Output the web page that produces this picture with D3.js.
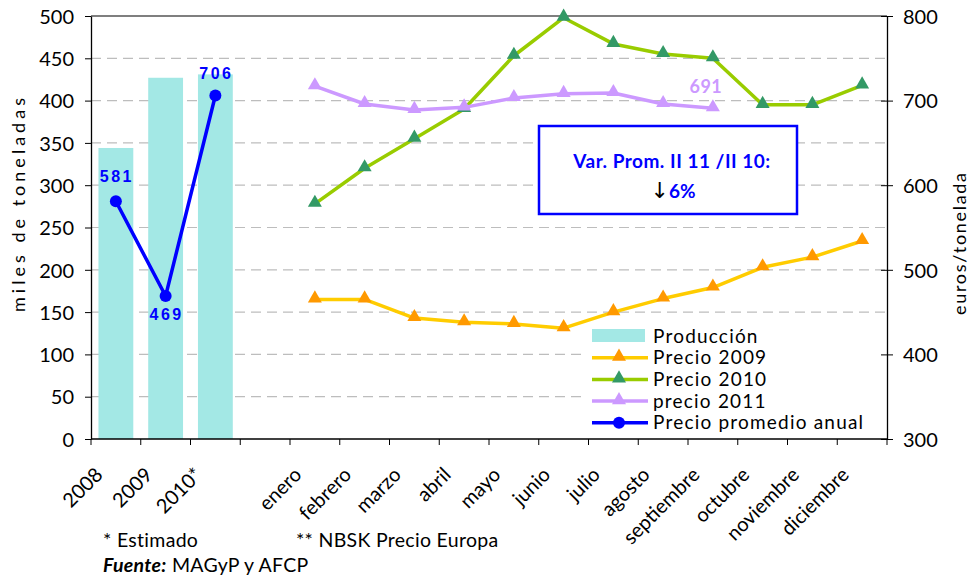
<!DOCTYPE html>
<html>
<head>
<meta charset="utf-8">
<script src="https://cdn.jsdelivr.net/npm/d3@7"></script>
<style>
  body { margin: 0; background: #fff; }
  svg text { font-family: Lato, "Noto Sans", sans-serif; }
</style>
</head>
<body>
<svg id="chart" width="970" height="577"></svg>
<script>
// categories on the x axis (blank slot separates years from months)
var categorias = ["2008", "2009", "2010*", "", "enero", "febrero", "marzo", "abril", "mayo", "junio",
                  "julio", "agosto", "septiembre", "octubre", "noviembre", "diciembre"];
var anios = ["2008", "2009", "2010*"];
var meses = ["enero", "febrero", "marzo", "abril", "mayo", "junio",
             "julio", "agosto", "septiembre", "octubre", "noviembre", "diciembre"];

// miles de toneladas (eje izquierdo)
var produccion = [344, 427, 431];
// euros/tonelada (eje derecho)
var precioPromedio = [581, 469, 706];
var precio2009 = [465, 465, 443, 438, 436, 431, 450, 466, 479, 503, 515, 534];
var precio2010 = [578, 620, 655, 690, 753, 798, 767, 755, 750, 695, 695, 718];
var precio2011 = [717, 696, 689, 692, 703, 708, 709, 696, 691];

var ticksIzq = [0, 50, 100, 150, 200, 250, 300, 350, 400, 450, 500];
var ticksDer = [300, 400, 500, 600, 700, 800];

var svg = d3.select("#chart");

var x = d3.scaleBand().domain(categorias).range([91, 887]).padding(0);
var yIzq = d3.scaleLinear().domain([0, 500]).range([439, 16]);
var yDer = d3.scaleLinear().domain([300, 800]).range([439, 16]);
var cx = function(c) { return x(c) + x.bandwidth() / 2; };

// dashed gridlines
svg.append("g").selectAll("line")
  .data(ticksIzq.slice(1, -1))
  .join("line")
  .attr("x1", 91).attr("x2", 887)
  .attr("y1", function(d) { return yIzq(d); })
  .attr("y2", function(d) { return yIzq(d); })
  .attr("stroke", "#bdbdbd")
  .attr("stroke-width", 1.2)
  .attr("stroke-dasharray", "10,6");

// top border
svg.append("line")
  .attr("x1", 91).attr("x2", 887)
  .attr("y1", yIzq(500)).attr("y2", yIzq(500))
  .attr("stroke", "#000").attr("stroke-width", 1.2);

// bars
svg.append("g").selectAll("rect")
  .data(produccion)
  .join("rect")
  .attr("x", function(d, i) { return x(anios[i]) + x.bandwidth() * 0.15; })
  .attr("width", x.bandwidth() * 0.7)
  .attr("y", function(d) { return yIzq(d); })
  .attr("height", function(d) { return yIzq(0) - yIzq(d); })
  .attr("fill", "#a3e8e5");

// legend background (hides the gridlines behind it)
svg.append("rect")
  .attr("x", 585).attr("y", 324)
  .attr("width", 300).attr("height", 114)
  .attr("fill", "#fff");

function serie(valores, etiquetas, color, grosor) {
  var line = d3.line()
    .x(function(d, i) { return cx(etiquetas[i]); })
    .y(function(d) { return yDer(d); });
  var g = svg.append("g");
  g.append("path")
    .datum(valores)
    .attr("d", line)
    .attr("fill", "none")
    .attr("stroke", color)
    .attr("stroke-width", grosor)
    .attr("stroke-linejoin", "round");
  return g;
}

function triangulos(g, valores, etiquetas, color) {
  g.selectAll("path.m")
    .data(valores)
    .join("path")
    .attr("class", "m")
    .attr("d", d3.symbol(d3.symbolTriangle, 85))
    .attr("transform", function(d, i) {
      return "translate(" + cx(etiquetas[i]) + "," + (yDer(d) - 1) + ")";
    })
    .attr("fill", color);
}

// precio promedio anual
var gProm = serie(precioPromedio, anios, "#0000ff", 3.5);
gProm.selectAll("circle")
  .data(precioPromedio)
  .join("circle")
  .attr("cx", function(d, i) { return cx(anios[i]); })
  .attr("cy", function(d) { return yDer(d); })
  .attr("r", 6)
  .attr("fill", "#0000ff");

var g09 = serie(precio2009, meses, "#ffcc00", 3.5);
triangulos(g09, precio2009, meses, "#ff9900");
var g10 = serie(precio2010, meses, "#99cc00", 3.5);
triangulos(g10, precio2010, meses, "#339966");
var g11 = serie(precio2011, meses, "#cc99ff", 3.5);
triangulos(g11, precio2011, meses, "#cc99ff");

// data labels
var offsets = [-19, 24, -17];
svg.append("g").selectAll("text")
  .data(precioPromedio)
  .join("text")
  .attr("x", function(d, i) { return cx(anios[i]) + 1; })
  .attr("y", function(d, i) { return yDer(d) + offsets[i]; })
  .attr("text-anchor", "middle")
  .style("font-family", "'Liberation Sans', Arial, sans-serif")
  .style("font-weight", "bold")
  .style("font-size", "16px")
  .style("letter-spacing", "2.5px")
  .attr("fill", "#0000ff")
  .text(function(d) { return d; });

var ult = precio2011.length - 1;
svg.append("text")
  .attr("x", cx(meses[ult]) - 7)
  .attr("y", yDer(precio2011[ult]) - 15)
  .attr("text-anchor", "middle")
  .style("font-weight", "bold")
  .style("font-size", "18px")
  .style("letter-spacing", "0.5px")
  .attr("fill", "#cc99ff")
  .text(precio2011[ult]);

// axes
var ejeIzq = svg.append("g")
  .attr("transform", "translate(91,0)")
  .call(d3.axisLeft(yIzq).tickValues(ticksIzq).tickSizeInner(6).tickSizeOuter(0).tickPadding(11));
ejeIzq.selectAll("text").style("font-size", "20px").attr("fill", "#000").attr("dy", "0.36em");
ejeIzq.select(".domain").attr("stroke-width", 1.3);

var ejeDer = svg.append("g")
  .attr("transform", "translate(887,0)")
  .call(d3.axisRight(yDer).tickValues(ticksDer).tickSizeInner(6).tickSizeOuter(0).tickPadding(10));
ejeDer.selectAll(".tick line").attr("x1", -6);
ejeDer.selectAll("text").style("font-size", "20px").attr("fill", "#000").attr("dy", "0.36em");
ejeDer.select(".domain").attr("stroke-width", 1.3);

// bottom axis with ticks at the band edges
svg.append("line")
  .attr("x1", 91).attr("x2", 887)
  .attr("y1", 439).attr("y2", 439)
  .attr("stroke", "#000").attr("stroke-width", 1.3);
var bordes = categorias.map(function(c) { return x(c); }).concat([x.range()[1]]);
svg.append("g").selectAll("line")
  .data(bordes)
  .join("line")
  .attr("x1", function(d) { return d; }).attr("x2", function(d) { return d; })
  .attr("y1", 439).attr("y2", 445)
  .attr("stroke", "#000");

svg.append("g").selectAll("text")
  .data(categorias.filter(function(c) { return c !== ""; }))
  .join("text")
  .attr("transform", function(c) { return "translate(" + (cx(c) - 12) + ",476) rotate(-45)"; })
  .attr("text-anchor", "end")
  .style("font-size", "20px")
  .attr("fill", "#000")
  .text(function(c) { return c; });

// axis titles
svg.append("text")
  .attr("transform", "translate(25,205) rotate(-90)")
  .attr("text-anchor", "middle")
  .attr("textLength", 214).attr("lengthAdjust", "spacing")
  .style("font-size", "18px")
  .text("miles de toneladas");

svg.append("text")
  .attr("transform", "translate(966,244) rotate(-90)")
  .attr("text-anchor", "middle")
  .attr("textLength", 142).attr("lengthAdjust", "spacing")
  .style("font-size", "18px")
  .text("euros/tonelada");

// legend
var leyenda = [
  { nombre: "Producción", tipo: "barra", linea: "#a3e8e5", marca: null },
  { nombre: "Precio 2009", tipo: "tri", linea: "#ffcc00", marca: "#ff9900" },
  { nombre: "Precio 2010", tipo: "tri", linea: "#99cc00", marca: "#339966" },
  { nombre: "precio 2011", tipo: "tri", linea: "#cc99ff", marca: "#cc99ff" },
  { nombre: "Precio promedio anual", tipo: "circ", linea: "#0000ff", marca: "#0000ff" }
];
var gl = svg.append("g").attr("transform", "translate(592,336)");
leyenda.forEach(function(d, i) {
  var yy = i * 21.7;
  if (d.tipo === "barra") {
    gl.append("rect").attr("x", 0).attr("y", yy - 7).attr("width", 53).attr("height", 13).attr("fill", d.linea);
  } else {
    gl.append("line").attr("x1", 0).attr("x2", 56).attr("y1", yy).attr("y2", yy)
      .attr("stroke", d.linea).attr("stroke-width", 3.5);
    if (d.tipo === "tri") {
      gl.append("path").attr("d", d3.symbol(d3.symbolTriangle, 85))
        .attr("transform", "translate(27," + (yy - 1) + ")").attr("fill", d.marca);
    } else {
      gl.append("circle").attr("cx", 27).attr("cy", yy).attr("r", 6).attr("fill", d.marca);
    }
  }
  gl.append("text")
    .attr("x", 61).attr("y", yy + 6.5)
    .style("font-size", "19px")
    .style("letter-spacing", "1.2px")
    .attr("fill", "#000")
    .text(d.nombre);
});

// annotation box
svg.append("rect")
  .attr("x", 539).attr("y", 126)
  .attr("width", 258).attr("height", 88)
  .attr("fill", "#fff")
  .attr("stroke", "#0000ff").attr("stroke-width", 2.5);
svg.append("text")
  .attr("x", 672).attr("y", 168)
  .attr("text-anchor", "middle")
  .style("font-weight", "bold")
  .style("font-size", "19px")
  .style("letter-spacing", "0.5px")
  .attr("fill", "#0000ff")
  .text("Var. Prom. II 11 /II 10:");
var t2 = svg.append("text")
  .attr("x", 673).attr("y", 198)
  .attr("text-anchor", "middle")
  .style("font-weight", "bold")
  .style("font-size", "19px");
t2.append("tspan").attr("fill", "#000").style("font-family", "'DejaVu Sans', sans-serif").style("font-weight", "normal").style("font-size", "22px").text("↓");
t2.append("tspan").attr("fill", "#0000ff").text("6%");

// footnotes
svg.append("text").attr("x", 103).attr("y", 547).style("font-size", "19.5px").style("letter-spacing", "0.3px").text("* Estimado");
svg.append("text").attr("x", 296).attr("y", 547).style("font-size", "19.5px").style("letter-spacing", "0.3px").text("** NBSK Precio Europa");
var fuente = svg.append("text").attr("x", 103).attr("y", 572).style("font-size", "19.5px").style("letter-spacing", "0.3px");
fuente.append("tspan").style("font-weight", "bold").style("font-style", "italic").text("Fuente:");
fuente.append("tspan").text(" MAGyP y AFCP");
</script>
</body>
</html>
